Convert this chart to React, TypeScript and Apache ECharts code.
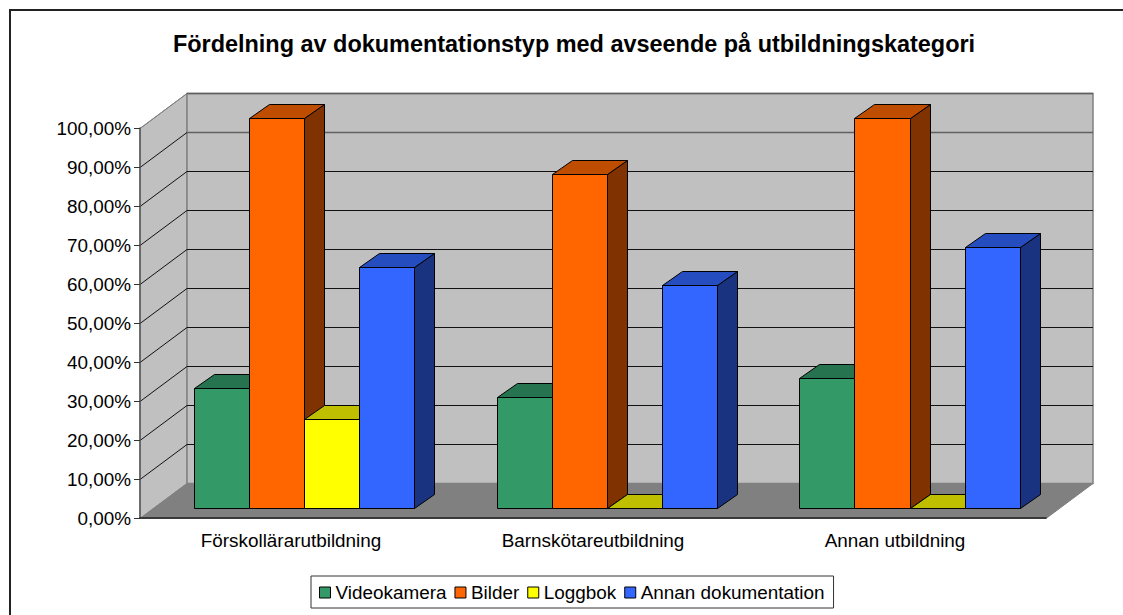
import React, { useEffect, useRef } from "react";
import * as echarts from "echarts";

const titleText = "Fördelning av dokumentationstyp med avseende på utbildningskategori";
const categories = ["Förskollärarutbildning", "Barnskötareutbildning", "Annan utbildning"];
const videokamera = [30.8, 28.5, 33.4];
const bilder = [100, 85.6, 100];
const loggbok = [22.9, 0, 0];
const annanDokumentation = [61.7, 57.1, 66.8];
const yTicks = [0, 10, 20, 30, 40, 50, 60, 70, 80, 90, 100];

const FONT = '"Liberation Sans", Arial, sans-serif';
const DEPTH_X = 47;
const DEPTH_Y = 35;
const FRONT_X = 13;
const GROUP_DRIFT = 0.8;
const FRONT_Y = 10;
const BAR_DX = 20;
const BAR_DY = 14;
const BAR_SHARE = 0.1825;

const seriesDefs = [
  { name: "Videokamera", values: videokamera, front: "#339966", top: "#267350", side: "#1A4D33" },
  { name: "Bilder", values: bilder, front: "#FF6600", top: "#BF4D00", side: "#803300" },
  { name: "Loggbok", values: loggbok, front: "#FFFF00", top: "#BFBF00", side: "#808000" },
  { name: "Annan dokumentation", values: annanDokumentation, front: "#3366FF", top: "#264DBF", side: "#1A3380" },
];

const poly = (points: number[][], fill: string, stroke: string, lineWidth = 1) => ({
  type: "polygon",
  shape: { points },
  style: { fill, stroke, lineWidth },
});
const line = (a: number[], b: number[], stroke: string, lineWidth = 1) => ({
  type: "line",
  shape: { x1: a[0], y1: a[1], x2: b[0], y2: b[1] },
  style: { stroke, lineWidth },
});

const renderWalls = (_: any, api: any) => {
  const left = api.coord([0, 0])[0] - api.size([1, 0])[0] / 2;
  const right = left + api.size([1, 0])[0] * categories.length;
  const yAt = (v: number) => Math.round(api.coord([0, v])[1]) + 0.5;
  const y0 = yAt(0);
  const yTop = yAt(100);
  const children: any[] = [
    poly([[left, y0], [left + DEPTH_X, y0 - DEPTH_Y], [left + DEPTH_X, yTop - DEPTH_Y], [left, yTop]], "#C0C0C0", "#808080"),
    poly([[left + DEPTH_X, y0 - DEPTH_Y], [right + DEPTH_X, y0 - DEPTH_Y], [right + DEPTH_X, yTop - DEPTH_Y], [left + DEPTH_X, yTop - DEPTH_Y]], "#C0C0C0", "#808080", 1.5),
    poly([[left, y0], [right, y0], [right + DEPTH_X, y0 - DEPTH_Y], [left + DEPTH_X, y0 - DEPTH_Y]], "#808080", "#808080"),
  ];
  yTicks.slice(1).forEach((t) => {
    const y = yAt(t);
    const stroke = t >= 90 ? "#606060" : "#111111";
    children.push(line([left, y], [left + DEPTH_X, y - DEPTH_Y], t === 100 ? "#808080" : "#111111"));
    children.push(line([left + DEPTH_X, y - DEPTH_Y], [right + DEPTH_X, y - DEPTH_Y], stroke, t >= 90 ? 1.5 : 1));
  });
  return { type: "group", children };
};

const renderBar = (index: number, def: (typeof seriesDefs)[number]) => (_: any, api: any) => {
  const band = api.size([1, 0])[0];
  const barW = band * BAR_SHARE;
  const top = api.coord([api.value(0), api.value(1)]);
  const base = api.coord([api.value(0), 0]);
  const cx = top[0] + FRONT_X + api.value(0) * GROUP_DRIFT;
  const x0 = Math.round(cx + (index - 2) * barW) + 0.5;
  const x1 = Math.round(cx + (index - 1) * barW) + 0.5;
  const yT = Math.round(top[1] - FRONT_Y) + 0.5;
  const yB = Math.round(base[1] - FRONT_Y) + 0.5;
  return {
    type: "group",
    children: [
      poly([[x1, yT], [x1 + BAR_DX, yT - BAR_DY], [x1 + BAR_DX, yB - BAR_DY], [x1, yB]], def.side, "#000"),
      poly([[x0, yT], [x0 + BAR_DX, yT - BAR_DY], [x1 + BAR_DX, yT - BAR_DY], [x1, yT]], def.top, "#000"),
      poly([[x0, yT], [x1, yT], [x1, yB], [x0, yB]], def.front, "#000"),
    ],
  };
};

export default function App() {
  const ref = useRef<HTMLDivElement>(null);
  useEffect(() => {
    document.body.style.margin = "0";
    const chart = echarts.init(ref.current!, undefined, { renderer: "svg" });
    chart.setOption({
      animation: false,
      backgroundColor: "#ffffff",
      title: {
        text: titleText,
        left: 569,
        top: 27,
        textAlign: "center",
        textStyle: { fontFamily: FONT, fontSize: 23.45, fontWeight: "bold", color: "#000" },
      },
      grid: { left: 140, right: 77, top: 128, bottom: 97 },
      xAxis: {
        type: "category",
        data: categories,
        z: 10,
        axisLine: { lineStyle: { color: "#222", width: 1.5 } },
        axisTick: { length: 6, lineStyle: { color: "#555" } },
        axisLabel: { fontFamily: FONT, fontSize: 18.9, color: "#000", margin: 13 },
      },
      yAxis: {
        type: "value",
        min: 0,
        max: 100,
        interval: 10,
        z: 10,
        splitLine: { show: false },
        axisLine: { show: true, lineStyle: { color: "#555", width: 1.5 } },
        axisTick: { show: true, length: 6, lineStyle: { color: "#333" } },
        axisLabel: {
          fontFamily: FONT,
          fontSize: 18.9,
          color: "#000",
          margin: 9,
          formatter: (v: number) => v.toFixed(2).replace(".", ",") + "%",
        },
      },
      legend: {
        left: 311,
        top: 576,
        data: seriesDefs.map((d) => d.name),
        icon: "rect",
        itemWidth: 11,
        itemHeight: 11,
        itemGap: 8,
        padding: [7, 9, 6, 8],
        borderColor: "#333",
        borderWidth: 1,
        backgroundColor: "#fff",
        selectedMode: false,
        itemStyle: { borderColor: "#000", borderWidth: 1 },
        textStyle: { fontFamily: FONT, fontSize: 18.9, color: "#000" },
      },
      graphic: [
        {
          type: "polyline",
          shape: { points: [[10, 615], [10, 10], [1123, 10]] },
          style: { fill: "none", stroke: "#222", lineWidth: 2 },
        },
      ],
      series: [
        {
          type: "custom",
          name: "Väggar",
          silent: true,
          data: [[0, 0]],
          encode: { x: 0, y: 1 },
          renderItem: renderWalls,
          z: 1,
        },
        ...seriesDefs.map((def, i) => ({
          type: "custom",
          name: def.name,
          itemStyle: { color: def.front },
          data: categories.map((_, c) => [c, def.values[c]]),
          encode: { x: 0, y: 1 },
          renderItem: renderBar(i, def),
          z: 2 + i,
        })),
      ],
    });
    return () => chart.dispose();
  }, []);
  return <div ref={ref} style={{ position: "absolute", left: 0, top: 0, width: 1123, height: 615 }} />;
}
